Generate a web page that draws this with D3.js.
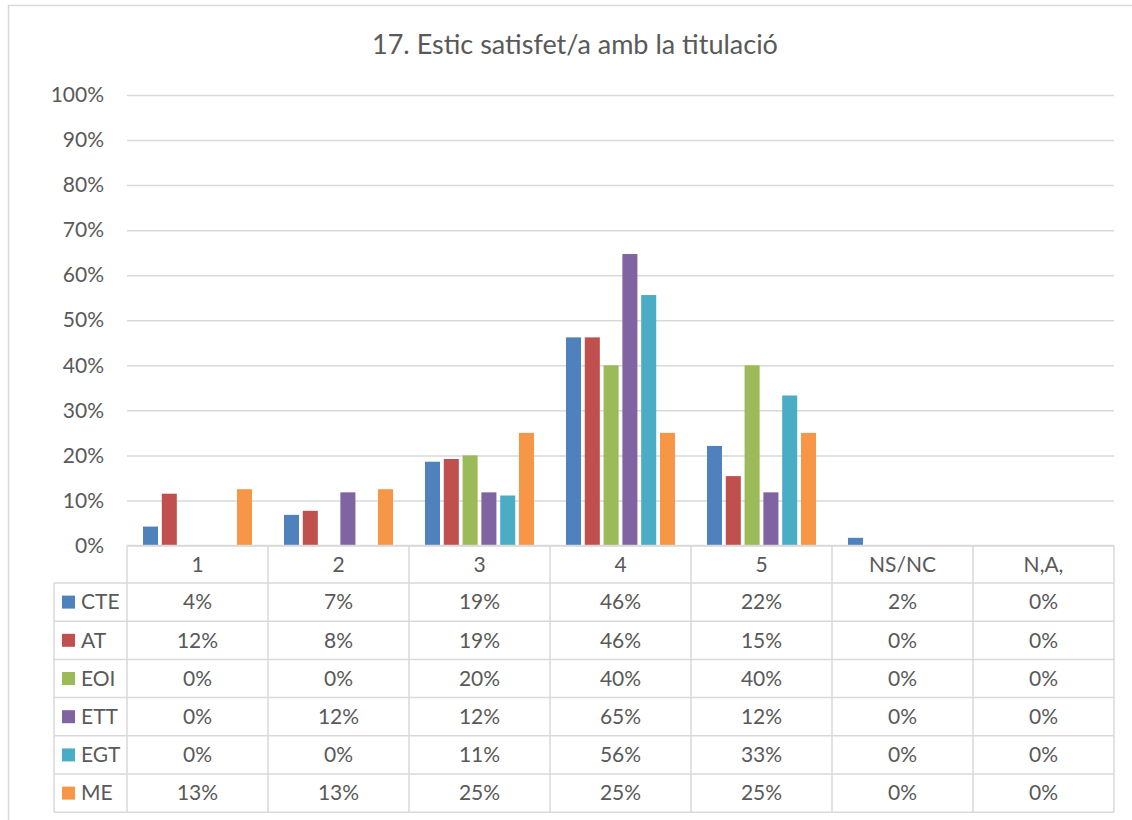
<!DOCTYPE html>
<html>
<head>
<meta charset="utf-8">
<script src="https://cdn.jsdelivr.net/npm/d3@7"></script>
<style>
  body { margin: 0; background: #fff; }
  svg { display: block; font-family: Lato, "Open Sans", sans-serif; }
  text { fill: #595959; }
</style>
</head>
<body>
<svg width="1132" height="820"></svg>
<script>
const categories = ['1', '2', '3', '4', '5', 'NS/NC', 'N,A,'];
const seriesNames = ['CTE', 'AT', 'EOI', 'ETT', 'EGT', 'ME'];
const colors = ['#4F81BD', '#C0504D', '#9BBB59', '#8064A2', '#4BACC6', '#F79646'];

const CTE = [0.042, 0.068, 0.186, 0.462, 0.221, 0.017, 0];
const AT  = [0.115, 0.077, 0.192, 0.462, 0.154, 0, 0];
const EOI = [0, 0, 0.20, 0.40, 0.40, 0, 0];
const ETT = [0, 0.118, 0.118, 0.647, 0.118, 0, 0];
const EGT = [0, 0, 0.111, 0.556, 0.333, 0, 0];
const ME  = [0.125, 0.125, 0.25, 0.25, 0.25, 0, 0];

const yTicks = [0, 0.1, 0.2, 0.3, 0.4, 0.5, 0.6, 0.7, 0.8, 0.9, 1];
const title = '17. Estic satisfet/a amb la titulació';

const series = [CTE, AT, EOI, ETT, EGT, ME].map((values, i) => ({
    name: seriesNames[i], color: colors[i], values: values
}));

const svg = d3.select('svg');
const grid = '#d9d9d9';
const pct = d3.format('.0%');
const fs = '21px';

// chart frame (runs off the right/bottom edge like the screenshot)
svg.append('rect')
    .attr('x', 8.5).attr('y', 5.5)
    .attr('width', 1140).attr('height', 830)
    .attr('fill', 'none').attr('stroke', grid).attr('stroke-width', 1.5);

svg.append('text')
    .attr('x', 575).attr('y', 54)
    .attr('text-anchor', 'middle')
    .style('font-size', '27px')
    .text(title);

const plotLeft = 127, plotRight = 1114, plotTop = 95, plotBottom = 545.5;
const x0 = d3.scaleBand().domain(categories).range([plotLeft, plotRight]);
const x1 = d3.scaleBand().domain(seriesNames).range([0, x0.bandwidth()])
    .paddingInner(0.2).paddingOuter(0.85);
const y = d3.scaleLinear().domain([0, 1]).range([plotBottom, plotTop]);

// gridlines + y labels
const yAxis = svg.append('g').attr('transform', `translate(${plotLeft},0)`)
    .call(d3.axisLeft(y).tickValues(yTicks).tickFormat(pct)
        .tickSize(-(plotRight - plotLeft)).tickPadding(23));
yAxis.select('.domain').remove();
yAxis.selectAll('line').attr('stroke', grid).attr('stroke-width', 1.5);
yAxis.selectAll('text').attr('fill', '#595959')
    .style('font-size', fs).style('font-family', 'Lato, "Open Sans", sans-serif');

// bars
const groups = svg.append('g').selectAll('g')
    .data(series).join('g')
    .attr('fill', d => d.color);
groups.selectAll('rect')
    .data(d => d.values.map((v, i) => ({ cat: categories[i], name: d.name, v: v })))
    .join('rect')
    .attr('x', d => x0(d.cat) + x1(d.name))
    .attr('width', x1.bandwidth())
    .attr('y', d => y(d.v))
    .attr('height', d => y(0) - y(d.v));

// data table
const rowH = 38.2, headH = 37.5;
const tableTop = plotBottom;
const rowsTop = tableTop + headH;
const tableBottom = rowsTop + rowH * series.length;
const legendLeft = 54;
const table = svg.append('g')
    .attr('stroke', grid).attr('stroke-width', 1.5);

// horizontal lines
table.append('line').attr('x1', plotLeft).attr('x2', plotRight)
    .attr('y1', tableTop).attr('y2', tableTop);
d3.range(series.length + 1).forEach(i => {
    const yy = rowsTop + i * rowH;
    table.append('line').attr('x1', legendLeft).attr('x2', plotRight)
        .attr('y1', yy).attr('y2', yy);
});
// vertical lines
table.append('line').attr('x1', legendLeft).attr('x2', legendLeft)
    .attr('y1', rowsTop).attr('y2', tableBottom);
categories.forEach(c => {
    table.append('line').attr('x1', x0(c)).attr('x2', x0(c))
        .attr('y1', tableTop).attr('y2', tableBottom);
});
table.append('line').attr('x1', plotRight).attr('x2', plotRight)
    .attr('y1', tableTop).attr('y2', tableBottom);

// header labels
svg.append('g').selectAll('text')
    .data(categories).join('text')
    .attr('x', d => x0(d) + x0.bandwidth() / 2)
    .attr('y', tableTop + headH / 2)
    .attr('dy', '0.35em')
    .attr('text-anchor', 'middle')
    .style('font-size', fs)
    .text(d => d);

// rows
const rows = svg.append('g').selectAll('g')
    .data(series).join('g')
    .attr('transform', (d, i) => `translate(0,${rowsTop + i * rowH + rowH / 2})`);
rows.append('rect')
    .attr('x', 62).attr('y', -6.5).attr('width', 13).attr('height', 13)
    .attr('fill', d => d.color);
rows.append('text')
    .attr('x', 81).attr('dy', '0.35em')
    .style('font-size', fs)
    .text(d => d.name);
rows.selectAll('text.val')
    .data(d => d.values.map((v, i) => ({ cat: categories[i], v: v })))
    .join('text')
    .attr('class', 'val')
    .attr('x', d => x0(d.cat) + x0.bandwidth() / 2)
    .attr('dy', '0.35em')
    .attr('text-anchor', 'middle')
    .style('font-size', fs)
    .text(d => pct(d.v));
</script>
</body>
</html>
